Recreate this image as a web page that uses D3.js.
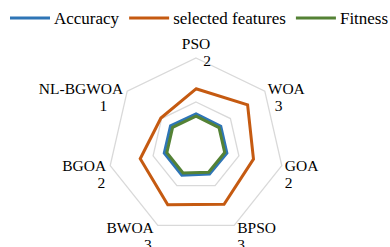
<!DOCTYPE html>
<html>
<head>
<meta charset="utf-8">
<script src="https://cdn.jsdelivr.net/npm/d3@7"></script>
<style>
  body { margin: 0; background: #fff; }
</style>
</head>
<body>
<script>
var width = 390, height = 247
var font = "Liberation Serif"

var categories = ["PSO", "WOA", "GOA", "BPSO", "BWOA", "BGOA", "NL-BGWOA"]
var counts = ["2", "3", "2", "3", "3", "2", "1"]
var accuracy = [36.5, 36, 36, 35.5, 37, 37, 37]
var selectedFeatures = [65, 75, 67, 73.5, 74, 65, 51]
var fitness = [34, 33.5, 33.5, 33, 34, 34, 34]
var gridTicks = [50, 100]

var series = [
  {name: "Accuracy", values: accuracy, color: "#2E75B6"},
  {name: "selected features", values: selectedFeatures, color: "#C55A11"},
  {name: "Fitness", values: fitness, color: "#548235"}
]

// second-line nudges for the category labels (layout only)
var line2dx = [11, 7, 0, 0, -2, -1, -16]

var cx = 196, cy = 146, R = 88

var r = d3.scaleLinear().domain([0, 100]).range([0, R])
var angle = d3.scaleLinear().domain([0, categories.length]).range([0, 2 * Math.PI])

var svg = d3.select("body").append("svg")
    .attr("width", width)
    .attr("height", height)

var g = svg.append("g").attr("transform", "translate(" + cx + "," + cy + ")")

var radial = d3.lineRadial()
    .angle(function(d, i) { return angle(i) })
    .radius(function(d) { return r(d) })
    .curve(d3.curveLinearClosed)

// grid rings
g.selectAll("path.grid")
    .data(gridTicks)
  .enter().append("path")
    .attr("class", "grid")
    .attr("d", function(t) { return radial(categories.map(function() { return t })) })
    .attr("fill", "none")
    .attr("stroke", "#d9d9d9")
    .attr("stroke-width", 1.3)

// series
g.selectAll("path.series")
    .data(series)
  .enter().append("path")
    .attr("class", "series")
    .attr("d", function(s) { return radial(s.values) })
    .attr("fill", "none")
    .attr("stroke", function(s) { return s.color })
    .attr("stroke-width", 3)
    .attr("stroke-linejoin", "miter")

// category labels
var labels = g.selectAll("text.cat")
    .data(categories)
  .enter().append("text")
    .attr("class", "cat")
    .attr("font-family", font)
    .attr("font-size", 15.5)
    .attr("fill", "#000")
    .attr("text-anchor", function(d, i) {
      var s = Math.sin(angle(i))
      return s > 0.1 ? "start" : (s < -0.1 ? "end" : "middle")
    })
    .attr("transform", function(d, i) {
      var a = angle(i), s = Math.sin(a), c = -Math.cos(a)
      var x = r(100) * s + (s > 0.1 ? 3 : (s < -0.1 ? -4 : 0))
      var y = r(100) * c + (c < -0.9 ? -9 : 5 + 3 * c)
      return "translate(" + x + "," + y + ")"
    })

labels.append("tspan")
    .attr("x", 0).attr("y", 0)
    .text(function(d) { return d })

labels.append("tspan")
    .attr("x", function(d, i) { return line2dx[i] })
    .attr("y", 17)
    .text(function(d, i) { return counts[i] })

// legend
var legend = svg.append("g").attr("class", "legend")
var lx = 10
series.forEach(function(s) {
  legend.append("line")
      .attr("x1", lx).attr("x2", lx + 40)
      .attr("y1", 18).attr("y2", 18)
      .attr("stroke", s.color)
      .attr("stroke-width", 3)
  var t = legend.append("text")
      .attr("x", lx + 44)
      .attr("y", 24)
      .attr("font-family", font)
      .attr("font-size", 17)
      .attr("fill", "#000")
      .text(s.name)
  lx = lx + 44 + t.node().getComputedTextLength() + 10
})
</script>
</body>
</html>
